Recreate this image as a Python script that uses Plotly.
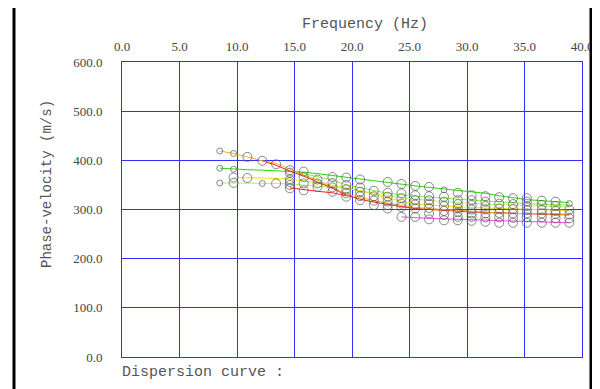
import plotly.graph_objects as go

# ---------------- data ----------------
freq = [8.5, 9.7, 10.9, 12.2, 13.4, 14.6, 15.8, 17.0, 18.3, 19.5, 20.7, 21.9, 23.1,
        24.3, 25.5, 26.7, 28.0, 29.2, 30.4, 31.6, 32.8, 34.0, 35.2, 36.5, 37.7, 38.9]

# picked phase velocities (circles) at each frequency column
picks = [
    [419, 384, 354],
    [414, 382, 365, 354],
    [407, 364],
    [399, 353],
    [392, 353],
    [380, 375, 361, 356, 350, 343],
    [377, 366, 353, 339],
    [361, 353, 346],
    [366, 354, 345, 336],
    [365, 350, 341, 333, 326],
    [361, 345, 336, 327, 319],
    [338, 327, 318, 309],
    [356, 334, 326, 316, 309, 302],
    [352, 333, 323, 312, 305, 285],
    [348, 329, 319, 310, 302, 285],
    [346, 327, 319, 312, 303, 292, 280],
    [340, 326, 316, 307, 297, 289, 278],
    [334, 319, 311, 302, 295, 285, 278],
    [329, 319, 309, 300, 292, 285, 277],
    [327, 316, 307, 300, 292, 284, 275],
    [325, 312, 302, 293, 284, 273],
    [323, 311, 301, 292, 283, 273],
    [323, 316, 307, 299, 292, 284, 273],
    [318, 309, 299, 292, 284, 273],
    [316, 307, 297, 291, 282, 273],
    [312, 300, 290, 282, 273],
]

# dispersion curves (start index into freq, velocities)
curve_orange = (0, [419, 414, 407, 399, 394, 382, 370, 360, 346, 331, 324, 318, 313,
                    309, 304, 302, 300, 298, 296, 294, 293, 292, 292, 291, 291, 290])
curve_red = (3, [399, 390, 378, 368, 356, 343, 329, 321, 315, 310, 306, 302, 300, 298,
                 297, 295, 294, 293, 292, 291, 291, 290, 289])
curve_red2 = (5, [344, 340, 337, 334, 328])
curve_yellow = (1, [365, 365, 364, 363, 362, 358, 354, 350, 345, 338, 330, 323, 317, 312,
                    309, 307, 305, 304, 303, 302, 301, 300, 299, 299, 298])
curve_ygreen = (0, [354, 354, 354, 353, 353, 352, 350, 347, 345, 343, 338, 333, 328, 324,
                    321, 318, 316, 314, 312, 311, 310, 309, 308, 307, 306, 305])
curve_green = (0, [384, 382, 381, 380, 379, 378, 376, 373, 369, 366, 362, 358, 354, 351,
                   348, 345, 342, 339, 336, 333, 328, 324, 320, 318, 316, 314])
curve_lime = (5, [379, 373, 366, 360, 350, 344, 338, 333, 330, 327, 325, 323, 321, 319,
                  318, 316, 314, 312, 311, 310, 309])
curve_magenta = (13, [285, 283, 282, 281, 280, 279, 278, 277, 276, 275, 274, 274, 273])

x_ticks = [0, 5, 10, 15, 20, 25, 30, 35, 40]
y_ticks = [0, 100, 200, 300, 400, 500, 600]

# ---------------- styles ----------------
small_cols = {0: [0, 1, 2], 1: [0, 1], 3: [1], 16: [0], 25: [0]}
curve_styles = [
    (curve_ygreen, "#b8f070"),
    (curve_lime, "#88f040"),
    (curve_yellow, "#f0e000"),
    (curve_green, "#22dd00"),
    (curve_red2, "#ff2020"),
    (curve_red, "#ff2000"),
    (curve_orange, "#ffaa22"),
    (curve_magenta, "#ff44ee"),
]

OFF = 8  # page body margin
FW, FH = 600 - OFF, 389 - OFF
L, R, T, B = 122 - OFF, 582 - OFF, 62 - OFF, 357 - OFF
W, H = R - L, B - T

fig = go.Figure()

for (start, vals), col in curve_styles:
    fig.add_trace(go.Scatter(
        x=freq[start:start + len(vals)], y=vals, mode="lines",
        line=dict(color=col, width=1), hoverinfo="skip", showlegend=False))

px, py, ps = [], [], []
for k, col in enumerate(picks):
    for j, v in enumerate(col):
        px.append(freq[k])
        py.append(v)
        ps.append(6 if j in small_cols.get(k, []) else 9)

fig.add_trace(go.Scatter(
    x=px, y=py, mode="markers",
    marker=dict(symbol="circle-open", size=ps, color="#555555", line=dict(width=1)),
    showlegend=False))

mono = "Liberation Mono"
serif = "Liberation Serif"


def fx(p):
    return (p - OFF - L) / W


def fy(p):
    return (B - (p - OFF)) / H


fig.update_layout(
    width=FW, height=FH,
    margin=dict(l=L, r=FW - R, t=T, b=FH - B, autoexpand=False),
    paper_bgcolor="white", plot_bgcolor="white",
    xaxis=dict(range=[0, 40], side="top", tickvals=x_ticks,
               ticktext=[f"{t:.1f}" for t in x_ticks], automargin=False,
               showgrid=True, gridcolor="#3030ff", gridwidth=1,
               showline=True, linecolor="#3030ff", linewidth=1, mirror=True,
               zeroline=False, ticks="", ticklabelstandoff=5,
               tickfont=dict(family=serif, size=13, color="#444444")),
    yaxis=dict(range=[0, 600], tickvals=y_ticks,
               ticktext=[f"{t:.1f}" for t in y_ticks], automargin=False,
               showgrid=True, gridcolor="#3030ff", gridwidth=1,
               showline=True, linecolor="#3030ff", linewidth=1, mirror=True,
               zeroline=False, ticks="", ticklabelstandoff=16,
               tickfont=dict(family=serif, size=13, color="#444444")),
    shapes=[dict(type="rect", xref="paper", yref="paper",
                 x0=fx(14), x1=fx(591), y0=fy(420), y1=fy(6),
                 line=dict(color="black", width=3), layer="above")],
    annotations=[
        dict(text="Frequency (Hz)", xref="paper", yref="paper", x=fx(365),
             y=fy(25), xanchor="center", yanchor="middle",
             showarrow=False, font=dict(family=mono, size=15, color="#555555")),
        dict(text="Phase-velocity (m/s)", xref="paper", yref="paper",
             x=fx(47), y=fy(184), textangle=-90,
             xanchor="center", yanchor="middle", showarrow=False,
             font=dict(family=mono, size=14, color="#555555")),
        dict(text="Dispersion curve :", xref="paper", yref="paper", x=fx(120),
             y=fy(372), xanchor="left", yanchor="middle",
             showarrow=False, font=dict(family=mono, size=15, color="#555555")),
    ],
)

fig.write_html("out.html")
